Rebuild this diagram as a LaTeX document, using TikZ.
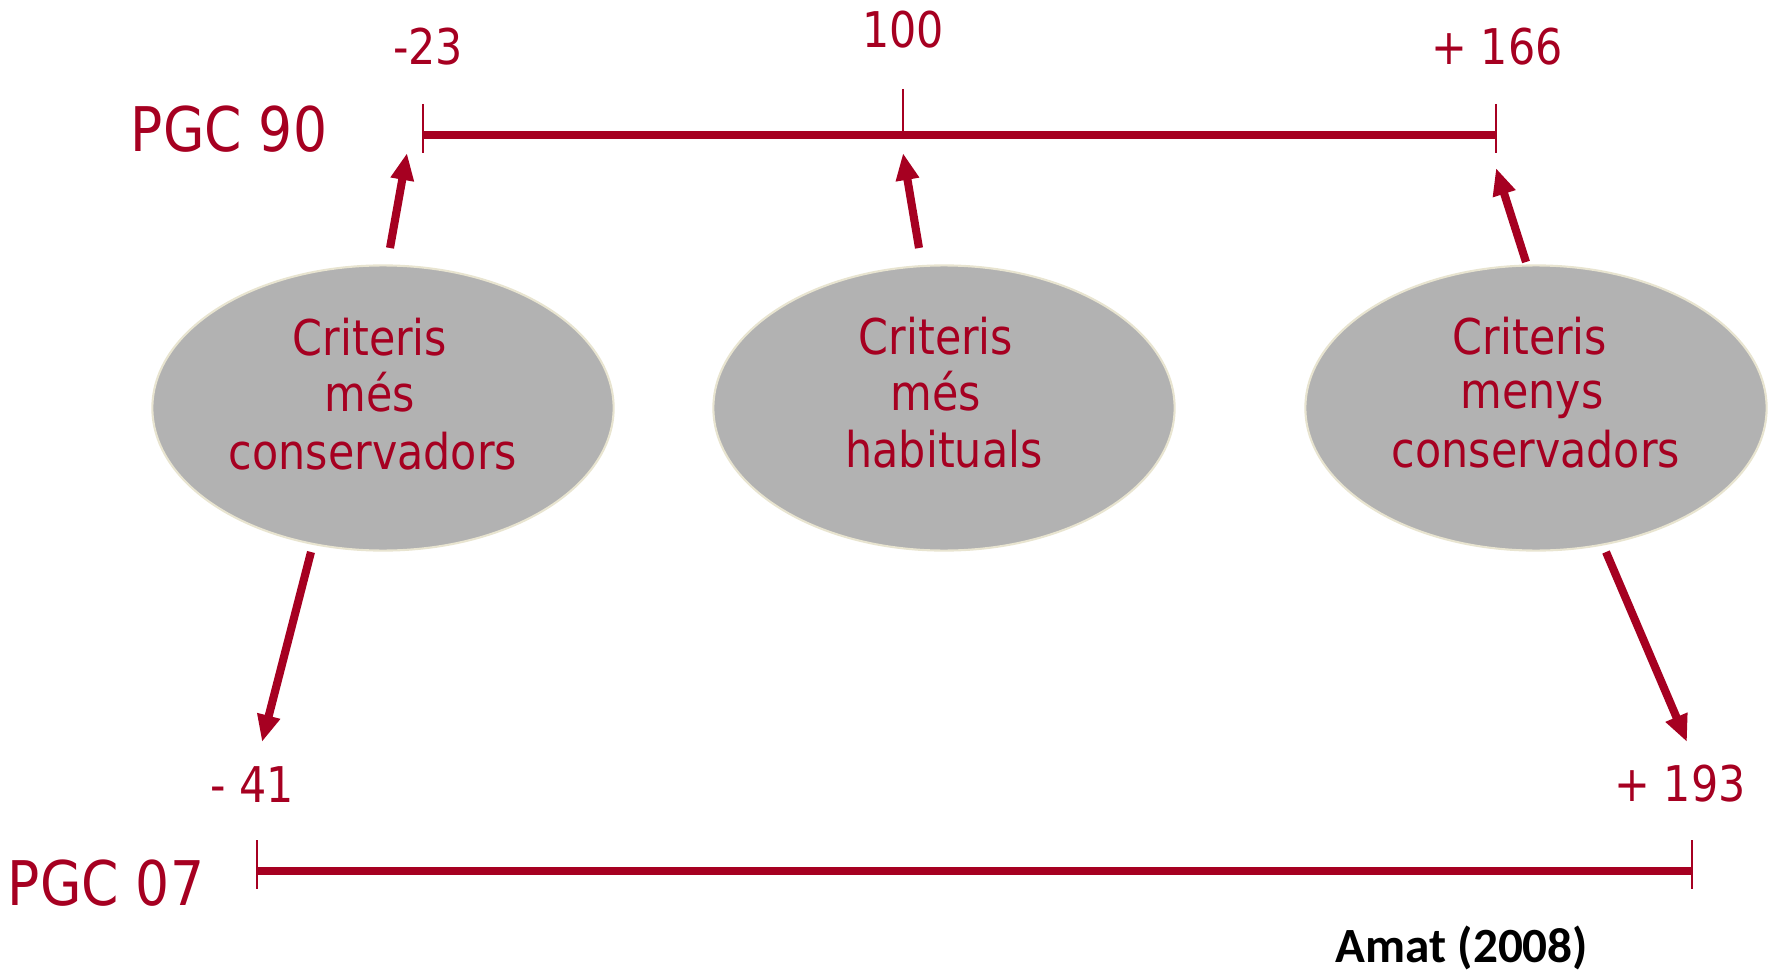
\documentclass[tikz,border=0pt]{standalone}
\usepackage{fontspec}
\setmainfont{DejaVu Sans}[FakeStretch=0.87]
\newfontfamily\calib{Carlito}
\usetikzlibrary{arrows.meta,shapes.geometric}
\definecolor{dred}{RGB}{166,0,33}
\definecolor{egray}{RGB}{178,178,178}
\definecolor{eedge}{RGB}{232,228,208}
\begin{document}
\begin{tikzpicture}[x=0.01cm,y=-0.01cm,
  ell/.style={ellipse, fill=egray, draw=eedge, line width=0.6pt, minimum width=4.61cm, minimum height=2.85cm, inner sep=0pt},
  txt/.style={text=dred, font=\fontsize{14}{16}\selectfont, anchor=base, inner sep=0pt},
  big/.style={text=dred, font=\fontsize{17.5}{20}\selectfont, anchor=base, inner sep=0pt},
  amatstyle/.style={text=black, font=\calib\bfseries\fontsize{14}{16}\selectfont, anchor=base, inner sep=0pt},
  axis/.style={draw=dred, line width=2pt},
  tickmark/.style={draw=dred, line width=0.6pt},
  arr/.style={draw=dred, line width=2.3pt, -{Triangle[length=0.27cm, width=0.22cm]}}]
\useasboundingbox (0,0) rectangle (1772,970);

% top axis
\coordinate (a1) at (423,135);
\coordinate (a2) at (1496,135);
\draw[axis] (a1) -- (a2);
\coordinate (t1a) at (423,104); \coordinate (t1b) at (423,153);
\coordinate (t2a) at (903,89);  \coordinate (t2b) at (903,135);
\coordinate (t3a) at (1496,104); \coordinate (t3b) at (1496,153);
\draw[tickmark] (t1a) -- (t1b);
\draw[tickmark] (t2a) -- (t2b);
\draw[tickmark] (t3a) -- (t3b);

% bottom axis
\coordinate (b1) at (257,871);
\coordinate (b2) at (1692,871);
\draw[axis] (b1) -- (b2);
\coordinate (u1a) at (257,840); \coordinate (u1b) at (257,889);
\coordinate (u2a) at (1692,840); \coordinate (u2b) at (1692,889);
\draw[tickmark] (u1a) -- (u1b);
\draw[tickmark] (u2a) -- (u2b);

% labels
\node[big] (pgc90) at (229,152) {PGC 90};
\node[big] (pgc07) at (106,905) {PGC 07};
\node[txt] (n23) at (428,65) {-23};
\node[txt] (n100) at (903,48) {100};
\node[txt] (n166) at (1497,65) {+ 166};
\node[txt] (n41) at (252,802) {- 41};
\node[txt] (n193) at (1680,801) {+ 193};
\node[amatstyle] (amat) at (1462,962) {Amat (2008)};

% ellipses
\node[ell] (e1) at (383,408) {};
\node[ell] (e2) at (944,408) {};
\node[ell] (e3) at (1536,408) {};

\node[txt] (e1l1) at (370,356) {Criteris};
\node[txt] (e1l2) at (370,412) {més};
\node[txt] (e1l3) at (373,469) {conservadors};

\node[txt] (e2l1) at (936,354) {Criteris};
\node[txt] (e2l2) at (936,410) {més};
\node[txt] (e2l3) at (944,467) {habituals};

\node[txt] (e3l1) at (1530,354) {Criteris};
\node[txt] (e3l2) at (1532,409) {menys};
\node[txt] (e3l3) at (1536,467) {conservadors};

% arrows
\coordinate (s1) at (390,248); \coordinate (d1) at (407,153);
\coordinate (s2) at (919,248); \coordinate (d2) at (903,153);
\coordinate (s3) at (1526,262); \coordinate (d3) at (1496,168);
\coordinate (s4) at (311,552); \coordinate (d4) at (262,742);
\coordinate (s5) at (1606,552); \coordinate (d5) at (1687,742);
\draw[arr] (s1) -- (d1);
\draw[arr] (s2) -- (d2);
\draw[arr] (s3) -- (d3);
\draw[arr] (s4) -- (d4);
\draw[arr] (s5) -- (d5);
\end{tikzpicture}
\end{document}
